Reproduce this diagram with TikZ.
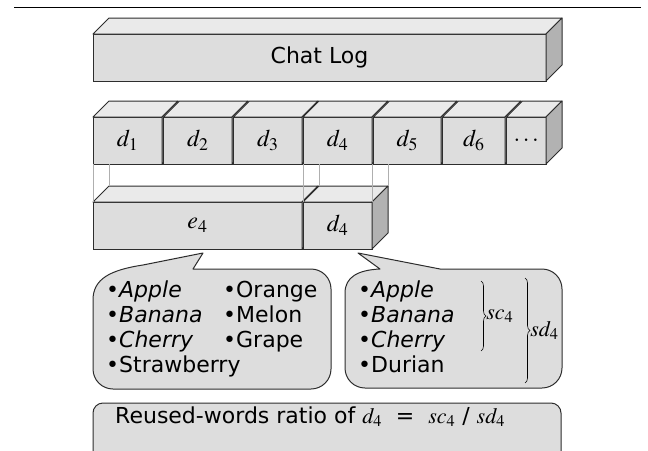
\documentclass[tikz,border=0pt]{standalone}
\usepackage{mathptmx}
\usepackage[no-math]{fontspec}
\setmainfont{DejaVu Sans}
\usepackage{tikz}
\usetikzlibrary{decorations.pathreplacing}
\definecolor{frontgray}{RGB}{221,221,221}
\definecolor{topgray}{RGB}{234,234,234}
\definecolor{sidegray}{RGB}{178,178,178}
\definecolor{edgegray}{RGB}{45,45,45}
\definecolor{tiegray}{RGB}{175,175,175}
\tikzstyle{front}=[draw=edgegray, fill=frontgray, line width=1pt, inner sep=0pt, outer sep=0pt, anchor=north west]
\tikzstyle{topface}=[draw=edgegray, fill=topgray, line width=1pt, line join=round]
\tikzstyle{sideface}=[draw=edgegray, fill=sidegray, line width=1pt, line join=round]
\tikzstyle{bubble}=[draw=edgegray, fill=frontgray, line width=1pt, line join=round]
\tikzstyle{tie}=[draw=tiegray, line width=0.8pt]
\tikzstyle{item}=[font=\fontsize{22}{26}\selectfont, inner sep=0pt, anchor=base west]
\tikzstyle{cellsty}=[font=\fontsize{24}{24}\selectfont]
\tikzstyle{brc}=[decorate, decoration={brace, amplitude=5pt}, line width=0.6pt]
\def\dep{16}
\newcommand{\cube}[1]{%
  \draw[topface] (#1.north west) -- ([shift={(\dep,-\dep)}]#1.north west)
    -- ([shift={(\dep,-\dep)}]#1.north east) -- (#1.north east) -- cycle;
  \draw[sideface] (#1.north east) -- ([shift={(\dep,-\dep)}]#1.north east)
    -- ([shift={(\dep,-\dep)}]#1.south east) -- (#1.south east) -- cycle;}

\begin{document}
\begin{tikzpicture}[x=1pt,y=-1pt]
	\useasboundingbox (0,0) rectangle (648,450);
	% rule on top
	\coordinate (rulel) at (14,7);
	\coordinate (ruler) at (641,7);
	\draw[line width=1pt] (rulel) -- (ruler);
	
	% chat log
	\node[front, minimum width=453, minimum height=47, font=\fontsize{22}{22}\selectfont] (log) at (93,34) {Chat Log};
	\cube{log}
	
	% extracted parts
	\node[front, minimum width=209, minimum height=47, cellsty] (e4) at (93,202) {$e_4$};
	\cube{e4}
	\node[front, minimum width=69, minimum height=47, cellsty] (d4b) at (303,202) {$d_4$};
	\cube{d4b}
	
	% dialogue cells
	\foreach \n/\xa/\xb/\lab in {d1/93/162/d_1, d2/163.5/232/d_2, d3/233.5/302/d_3, d4/303/372/d_4, d5/373.5/441/d_5, d6/442.5/505/d_6, dn/506.5/546/\ldots}{
		\node[front, minimum width=\xb-\xa, minimum height=47, cellsty] (\n) at (\xa,117) {$\lab$};
		\cube{\n}
	}
	
	% ties between the rows
	\coordinate (e4b) at ([shift={(\dep,-\dep)}]e4.north west);
	\coordinate (d4bl) at ([shift={(\dep,-\dep)}]d4b.north west);
	\coordinate (d4br) at ([shift={(\dep,-\dep)}]d4b.north east);
	\draw[tie] (d1.south west) -- (e4.north west);
	\draw[tie] (e4b |- d1.south) -- (e4b);
	\draw[tie] (d4.south west) -- (d4b.north west);
	\draw[tie] (d4bl |- d4.south) -- (d4bl);
	\draw[tie] (d4.south east) -- (d4b.north east);
	\draw[tie] (d4br |- d4.south) -- (d4br);
	
	% callouts
	\draw[bubble] (93,330) -- (93,300) .. controls (93,279) and (110,270) .. (143,265) -- (203,253) -- (193,269)
		-- (311,269) arc[start angle=-90, end angle=0, radius=20] -- (331,369)
		arc[start angle=0, end angle=90, radius=20] -- (113,389)
		arc[start angle=90, end angle=180, radius=20] -- cycle;
	\draw[bubble] (345,330) -- (345,293) .. controls (345,277) and (358,270) .. (380,269) -- (358,253) -- (440,269)
		-- (542,269) arc[start angle=-90, end angle=0, radius=20] -- (562,368)
		arc[start angle=0, end angle=90, radius=20] -- (365,388)
		arc[start angle=90, end angle=180, radius=20] -- cycle;
	
	\node[item] (la) at (106,297) {•\textit{Apple}};
	\node[item] (lb) at (106,322) {•\textit{Banana}};
	\node[item] (lc) at (106,347) {•\textit{Cherry}};
	\node[item] (ls) at (106,372) {•Strawberry};
	\node[item] (lo) at (223,297) {•Orange};
	\node[item] (lm) at (223,322) {•Melon};
	\node[item] (lg) at (223,347) {•Grape};
	
	\node[item] (ra) at (358,297) {•\textit{Apple}};
	\node[item] (rb) at (358,322) {•\textit{Banana}};
	\node[item] (rc) at (358,347) {•\textit{Cherry}};
	\node[item] (rd) at (358,372) {•Durian};
	
	% braces
	\coordinate (sct) at (481,281);
	\coordinate (scb) at (481,351);
	\coordinate (sdt) at (525,278);
	\coordinate (sdb) at (525,383);
	\draw[brc] (sct) -- node[right=5pt, inner sep=0pt, cellsty, font=\fontsize{22}{22}\selectfont] (sc) {$sc_4$} (scb);
	\draw[brc] (sdt) -- node[right=5pt, inner sep=0pt, cellsty, font=\fontsize{22}{22}\selectfont] (sd) {$sd_4$} (sdb);
	
	% ratio
	\node[front, minimum width=468, minimum height=60, rounded corners=10] (ratio) at (93,403) {};
	\node[item] (ratiotxt) at (115,423) {Reused-words ratio of $d_4$\ \ =\ \ $sc_4$ / $sd_4$};
\end{tikzpicture}
\end{document}
